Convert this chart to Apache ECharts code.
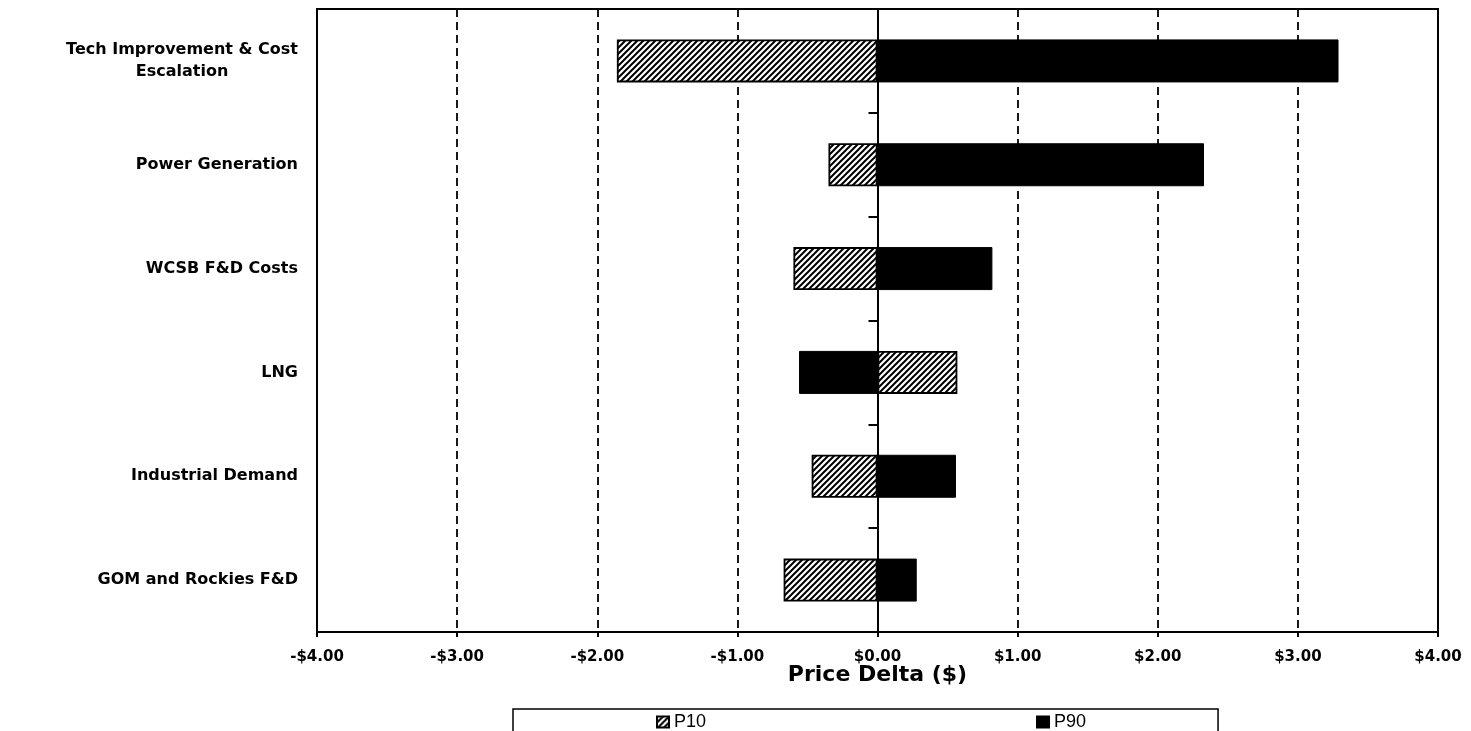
<!DOCTYPE html>
<html>
<head>
<meta charset="utf-8">
<script src="https://cdn.jsdelivr.net/npm/echarts@6/dist/echarts.min.js"></script>
<style>
  html, body { margin: 0; padding: 0; background: #fff; }
  #chart { width: 1471px; height: 731px; }
</style>
</head>
<body>
<div id="chart"></div>
<script>
// Sensitivity of price to each driver (tornado chart)
const categories = [
  'Tech Improvement & Cost Escalation',
  'Power Generation',
  'WCSB F&D Costs',
  'LNG',
  'Industrial Demand',
  'GOM and Rockies F&D'
];
const p10 = [-1.86, -0.35, -0.60, 0.57, -0.47, -0.67];
const p90 = [3.29, 2.33, 0.82, -0.56, 0.56, 0.28];
const seriesNames = ['P10', 'P90'];
const xMin = -4, xMax = 4;

// Diagonal hatch fill used for the P10 bars
function makeHatch() {
  const s = 6;
  const c = document.createElement('canvas');
  c.width = s; c.height = s;
  const g = c.getContext('2d');
  g.fillStyle = '#fff';
  g.fillRect(0, 0, s, s);
  g.strokeStyle = '#000';
  g.lineWidth = 2;
  g.beginPath();
  for (const k of [-s, 0, s]) {
    g.moveTo(k - 1, s + 1);
    g.lineTo(k + s + 1, -1);
  }
  g.stroke();
  return c;
}

function money(v) {
  const a = Math.abs(v).toFixed(2);
  return (v < 0 ? '-$' : '$') + a;
}

const font = 'DejaVu Sans';
const chart = echarts.init(document.getElementById('chart'));

chart.setOption({
  backgroundColor: '#fff',
  animation: false,
  grid: {
    left: 317, right: 33, top: 9, bottom: 99,
    show: true, borderColor: '#000', borderWidth: 2, backgroundColor: 'transparent'
  },
  legend: {
    data: seriesNames,
    left: 513, top: 709,
    padding: [4, 132, 4, 143],
    itemGap: 330,
    icon: 'rect',
    itemWidth: 12, itemHeight: 11,
    borderColor: '#000', borderWidth: 1.5,
    textStyle: { fontFamily: 'Liberation Sans', fontSize: 18, color: '#000' }
  },
  xAxis: {
    type: 'value',
    min: xMin, max: xMax, interval: 1,
    name: 'Price Delta ($)',
    nameLocation: 'middle',
    nameGap: 32,
    nameMoveOverlap: false,
    nameTextStyle: { fontFamily: font, fontWeight: 'bold', fontSize: 22, color: '#000' },
    axisLine: { show: true, onZero: false, lineStyle: { color: '#000', width: 2 } },
    axisTick: { show: true, length: 5, lineStyle: { color: '#000', width: 2 } },
    axisLabel: {
      margin: 18, color: '#000',
      fontFamily: font, fontWeight: 'bold', fontSize: 15,
      formatter: money
    },
    splitLine: { show: true, lineStyle: { color: '#000', width: 1.8, type: [8, 5] } }
  },
  yAxis: [
    {
      type: 'category',
      data: categories,
      inverse: true,
      axisLine: { show: true, onZero: false, lineStyle: { color: '#000', width: 2 } },
      axisTick: { show: false },
      splitLine: { show: false },
      axisLabel: {
        margin: 19, color: '#000',
        fontFamily: font, fontWeight: 'bold', fontSize: 16,
        lineHeight: 22,
        formatter: function (v) {
          if (v === categories[0]) {
            return '{c|Tech Improvement & Cost}\n{c|Escalation}';
          }
          return v;
        },
        rich: {
          c: { align: 'center', fontFamily: font, fontWeight: 'bold', fontSize: 16, lineHeight: 22, color: '#000' }
        }
      }
    },
    {
      type: 'category',
      data: categories,
      inverse: true,
      axisLine: { show: true, onZero: true, lineStyle: { color: '#000', width: 2 } },
      axisTick: { show: true, inside: true, length: 9, lineStyle: { color: '#000', width: 2 } },
      axisLabel: { show: false },
      splitLine: { show: false }
    }
  ],
  series: [
    {
      name: seriesNames[0],
      type: 'bar',
      data: p10,
      barWidth: 43,
      barGap: '-100%',
      itemStyle: {
        color: { image: makeHatch(), repeat: 'repeat' },
        borderColor: '#000', borderWidth: 1.8
      },
      // solid frame lines on the outer edges of the plot
      markLine: {
        silent: true,
        symbol: 'none',
        label: { show: false },
        lineStyle: { color: '#000', width: 2, type: 'solid' },
        data: [{ xAxis: xMin }, { xAxis: xMax }]
      }
    },
    {
      name: seriesNames[1],
      type: 'bar',
      data: p90,
      barWidth: 43,
      barGap: '-100%',
      itemStyle: { color: '#000', borderColor: '#000', borderWidth: 1 }
    }
  ]
});
</script>
</body>
</html>
